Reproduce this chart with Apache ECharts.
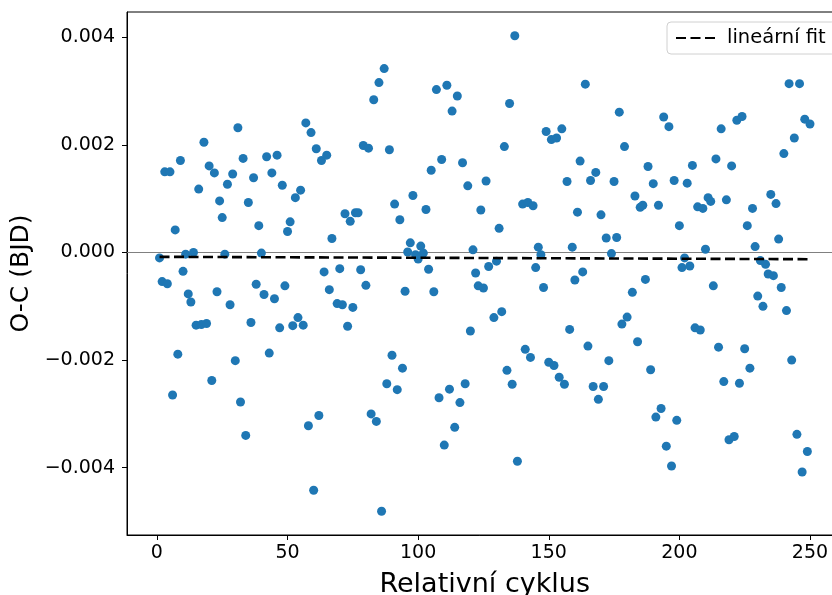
<!DOCTYPE html>
<html>
<head>
<meta charset="utf-8">
<script src="https://cdn.jsdelivr.net/npm/echarts@6/dist/echarts.min.js"></script>
<style>
  html, body { margin: 0; padding: 0; background: #ffffff; }
  #chart { width: 832px; height: 595px; }
</style>
</head>
<body>
<div id="chart"></div>
<script>
// Relative cycle numbers of the measured minima
const cycles = [
  1, 2, 3, 4, 5, 6, 7, 8, 9, 10, 11, 12, 13, 14, 15, 16, 17, 18, 19, 20,
  21, 22, 23, 24, 25, 26, 27, 28, 29, 30, 31, 32, 33, 34, 35, 36, 37, 38, 39, 40,
  41, 42, 43, 44, 45, 46, 47, 48, 49, 50, 51, 52, 53, 54, 55, 56, 57, 58, 59, 60,
  61, 62, 63, 64, 65, 66, 67, 69, 70, 71, 72, 73, 74, 75, 76, 77, 78, 79, 80,
  81, 82, 83, 84, 85, 86, 87, 88, 89, 90, 91, 92, 93, 94, 95, 96, 97, 98, 99, 100,
  101, 102, 103, 104, 105, 106, 107, 108, 109, 110, 111, 112, 113, 114, 115, 116, 117, 118, 119, 120,
  121, 122, 123, 124, 125, 126, 127, 129, 130, 131, 132, 133, 134, 135, 136, 137, 138,
  140, 141, 142, 143, 144, 145, 146, 147, 148, 149, 150, 151, 152, 153, 154, 155, 156, 157, 158, 159, 160,
  161, 162, 163, 164, 165, 166, 167, 168, 169, 170, 171, 172, 173, 174, 175, 176, 177, 178, 179, 180,
  182, 183, 184, 185, 186, 187, 188, 189, 190, 191, 192, 193, 194, 195, 196, 197, 198, 199, 200,
  201, 202, 203, 204, 205, 206, 207, 208, 209, 210, 211, 212, 213, 214, 215, 216, 217, 218, 219, 220,
  221, 222, 223, 224, 225, 226, 227, 228, 229, 230, 231, 232, 233, 234, 235, 236, 237, 238, 239, 240,
  241, 242, 243, 244, 245, 246, 247, 248, 249, 250
];

// O-C residuals in days (BJD)
const ocValues = [
  -0.00010, -0.00054, 0.00150, -0.00058, 0.00150, -0.00265, 0.00042, -0.00189, 0.00171, -0.00035,
  -0.00003, -0.00077, -0.00092, 0.00000, -0.00135, 0.00118, -0.00134, 0.00205, -0.00132, 0.00161,
  -0.00238, 0.00148, -0.00073, 0.00096, 0.00065, -0.00003, 0.00127, -0.00097, 0.00146, -0.00201,
  0.00232, -0.00278, 0.00175, -0.00340, 0.00093, -0.00130, 0.00139, -0.00059, 0.00050, -0.00001,
  -0.00078, 0.00178, -0.00187, 0.00148, -0.00086, 0.00181, -0.00140, 0.00125, -0.00062, 0.00039,
  0.00057, -0.00136, 0.00102, -0.00121, 0.00116, -0.00135, 0.00241, -0.00322, 0.00223, -0.00442,
  0.00193, -0.00303, 0.00171, -0.00036, 0.00181, -0.00069, 0.00026, -0.00095, -0.00030, -0.00097,
  0.00072, -0.00137, 0.00058, -0.00102, 0.00074, 0.00074, -0.00032, 0.00199, -0.00061,
  0.00194, -0.00300, 0.00284, -0.00314, 0.00316, -0.00481, 0.00342, -0.00244, 0.00191, -0.00191,
  0.00090, -0.00255, 0.00061, -0.00215, -0.00072, 0.00001, 0.00018, 0.00106, -0.00004, -0.00012,
  0.00012, -0.00001, 0.00080, -0.00031, 0.00153, -0.00073, 0.00303, -0.00270, 0.00173, -0.00358,
  0.00311, -0.00254, 0.00263, -0.00325, 0.00291, -0.00279, 0.00167, -0.00244, 0.00124, -0.00146,
  0.00005, -0.00038, -0.00062, 0.00079, -0.00066, 0.00133, -0.00026, -0.00121, -0.00016, 0.00045,
  -0.00110, 0.00197, -0.00219, 0.00277, -0.00245, 0.00403, -0.00388,
  0.00090, -0.00180, 0.00093, -0.00195, 0.00087, -0.00028, 0.00010, -0.00004, -0.00065, 0.00225,
  -0.00204, 0.00210, -0.00210, 0.00213, -0.00232, 0.00230, -0.00245, 0.00132, -0.00143, 0.00010, -0.00051,
  0.00075, 0.00170, -0.00036, 0.00313, -0.00174, 0.00134, -0.00249, 0.00149, -0.00273, 0.00070,
  -0.00249, 0.00027, -0.00201, -0.00002, 0.00132, 0.00028, 0.00261, -0.00133, 0.00197, -0.00120,
  -0.00074, 0.00105, -0.00166, 0.00084, 0.00088, -0.00050, 0.00160, -0.00218, 0.00128, -0.00306,
  0.00088, -0.00290, 0.00252, -0.00360, 0.00234, -0.00397, 0.00134, -0.00312, 0.00050,
  -0.00028, -0.00010, 0.00129, -0.00025, 0.00162, -0.00140, 0.00085, -0.00144, 0.00082, 0.00006,
  0.00102, 0.00095, -0.00062, 0.00174, -0.00176, 0.00230, -0.00240, 0.00098, -0.00348, 0.00161,
  -0.00342, 0.00246, -0.00243, 0.00253, -0.00179, 0.00050, -0.00215, 0.00082, 0.00011, -0.00081,
  -0.00015, -0.00100, -0.00022, -0.00040, 0.00108, -0.00043, 0.00091, 0.00025, -0.00065, 0.00184,
  -0.00108, 0.00314, -0.00200, 0.00213, -0.00338, 0.00314, -0.00408, 0.00248, -0.00370, 0.00239
];

// End points of the fitted linear ephemeris correction
const fitCycles = [1, 250];
const fitValues = [-0.00008, -0.000124];

// Tick positions
const xTicks = [0, 50, 100, 150, 200, 250];
const yTicks = [-0.004, -0.002, 0, 0.002, 0.004];

const FONT = 'DejaVu Sans';

const scatterData = cycles.map((c, i) => [c, ocValues[i]]);
const fitData = fitCycles.map((c, i) => [c, fitValues[i]]);

function fmtY(v) {
  if (Math.abs(v) < 1e-12) return '0.000';
  return (v < 0 ? '\u2212' : '') + Math.abs(v).toFixed(3);
}

const chart = echarts.init(document.getElementById('chart'), null, { renderer: 'canvas' });

chart.setOption({
  animation: false,
  backgroundColor: '#ffffff',
  grid: {
    left: 127, top: 12, bottom: 60, right: -10.5,
    show: true, borderColor: '#000000', borderWidth: 1,
    containLabel: false,
    outerBoundsMode: 'none'
  },
  xAxis: {
    type: 'value',
    min: -11.45, max: 262.45,
    name: 'Relativní cyklus',
    nameLocation: 'middle',
    nameGap: 36,
    nameTextStyle: { fontFamily: FONT, fontSize: 27, color: '#000', verticalAlign: 'top' },
    axisLine: { show: true, onZero: false, lineStyle: { color: '#000', width: 1 } },
    axisTick: { show: true, length: 5, inside: false, customValues: xTicks, lineStyle: { color: '#000', width: 1 } },
    axisLabel: {
      show: true, customValues: xTicks, margin: 9,
      fontFamily: FONT, fontSize: 19, color: '#000',
      formatter: v => String(Math.round(v))
    },
    splitLine: { show: false }
  },
  yAxis: {
    type: 'value',
    min: -0.005252, max: 0.004472,
    name: 'O-C (BJD)',
    nameLocation: 'middle',
    nameGap: 86,
    nameTextStyle: { fontFamily: FONT, fontSize: 25, color: '#000' },
    axisLine: { show: true, onZero: false, lineStyle: { color: '#000', width: 1 } },
    axisTick: { show: true, length: 5, inside: false, customValues: yTicks, lineStyle: { color: '#000', width: 1 } },
    axisLabel: {
      show: true, customValues: yTicks, margin: 12,
      fontFamily: FONT, fontSize: 19, color: '#000',
      formatter: fmtY
    },
    splitLine: { show: false }
  },
  legend: {
    show: true,
    data: ['lineární fit'],
    left: 667, top: 22,
    orient: 'horizontal',
    itemWidth: 40, itemHeight: 14,
    padding: [6, 10, 6, 8],
    backgroundColor: 'rgba(255,255,255,0.8)',
    borderColor: '#d0d0d0', borderWidth: 1, borderRadius: 4,
    itemStyle: { color: 'rgba(0,0,0,0)', borderWidth: 0, opacity: 0 },
    textStyle: { fontFamily: FONT, fontSize: 19.5, color: '#000', padding: [0, 0, 0, 6] }
  },
  series: [
    {
      name: 'O-C',
      type: 'scatter',
      data: scatterData,
      symbol: 'circle',
      symbolSize: 9,
      itemStyle: { color: '#1f77b4', opacity: 1 },
      z: 2,
      markLine: {
        silent: true,
        symbol: 'none',
        label: { show: false },
        lineStyle: { color: '#808080', width: 1, type: 'solid' },
        data: [{ yAxis: 0 }],
        z: 1
      }
    },
    {
      name: 'lineární fit',
      type: 'line',
      data: fitData,
      showSymbol: false,
      symbol: 'none',
      lineStyle: { color: '#000000', width: 2.6, type: [10, 4.5] },
      itemStyle: { color: '#000000' },
      z: 5
    }
  ]
});
</script>
</body>
</html>
